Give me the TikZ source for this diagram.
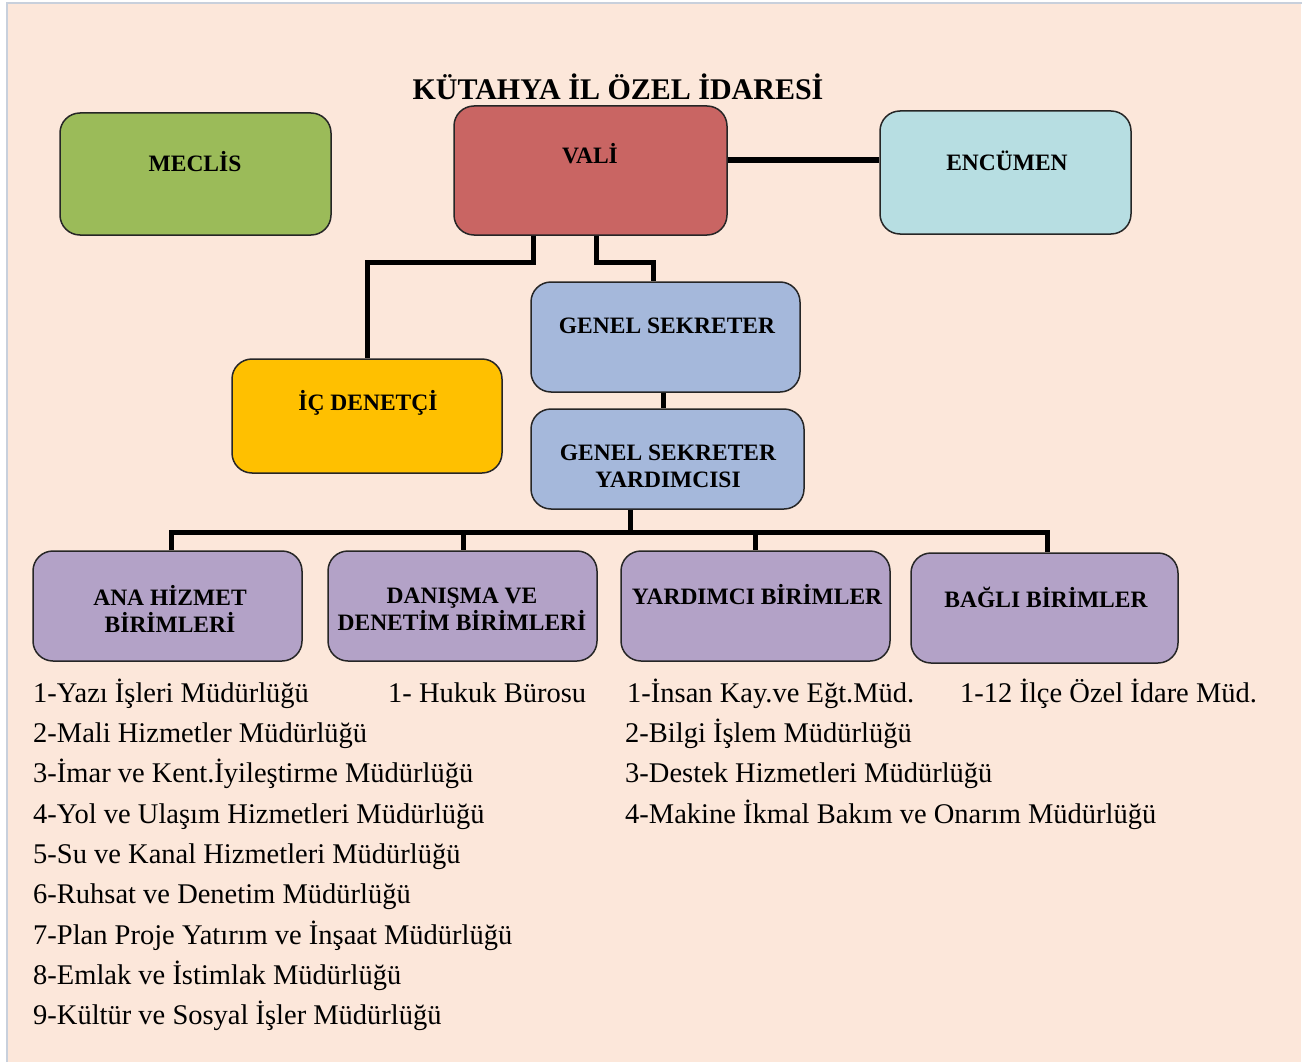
\documentclass[tikz,border=0pt]{standalone}
\usepackage{fontspec}
\setmainfont{Liberation Serif}
\definecolor{bg}{RGB}{252,231,218}
\definecolor{bordergray}{RGB}{200,208,220}
\definecolor{cmeclis}{RGB}{155,187,89}
\definecolor{cvali}{RGB}{201,101,99}
\definecolor{cenc}{RGB}{183,222,226}
\definecolor{cicd}{RGB}{255,192,0}
\definecolor{cgs}{RGB}{165,184,219}
\definecolor{cpur}{RGB}{179,162,199}
\begin{document}
\begin{tikzpicture}[x=1pt,y=-1pt,
  box/.style={draw=black!85, line width=1.5pt, rounded corners=20pt, inner sep=0pt},
  conn/.style={line width=5pt, draw=black},
  btext/.style={font=\fontsize{23.5}{27}\selectfont\bfseries, align=center, inner sep=0pt},
  ttext/.style={font=\fontsize{30}{33}\selectfont\bfseries, inner sep=0pt},
  item/.style={font=\fontsize{28.5}{31}\selectfont, anchor=base west, inner sep=0pt}]
\useasboundingbox (0,0) rectangle (1309,1062);
\fill[white] (0,0) rectangle (1309,1062);
\fill[bg] (8,4) rectangle (1301,1062);
\draw[bordergray, line width=1.5pt] (7,1062) -- (7,3) -- (1302,3);

% boxes
\node[box, fill=cmeclis, minimum width=271pt, minimum height=122pt] (meclis) at (195.5,174) {};
\node[box, fill=cvali, minimum width=273pt, minimum height=129pt] (vali) at (590.5,170.5) {};
\node[box, fill=cenc, minimum width=251pt, minimum height=123pt] (enc) at (1005.5,172.5) {};
\node[box, fill=cgs, minimum width=269pt, minimum height=110pt] (gsk) at (665.5,337) {};
\node[box, fill=cicd, minimum width=270pt, minimum height=114pt] (icd) at (367,416) {};
\node[box, fill=cgs, minimum width=273pt, minimum height=100pt] (gsy) at (667.5,459) {};
\node[box, fill=cpur, minimum width=269pt, minimum height=110pt] (anah) at (167.5,606) {};
\node[box, fill=cpur, minimum width=269pt, minimum height=110pt] (dan) at (462.5,606) {};
\node[box, fill=cpur, minimum width=269pt, minimum height=110pt] (yar) at (755.5,606) {};
\node[box, fill=cpur, minimum width=267pt, minimum height=110pt] (bag) at (1044.5,608) {};

% connector bends
\coordinate (e1) at (800,160);
\coordinate (j1) at (533,262);
\coordinate (j2) at (596,262);
\coordinate (j3) at (653,262);
\coordinate (j4) at (663,400);
\coordinate (j5) at (630,532);
\coordinate (b1) at (171,532);
\coordinate (b2) at (463,532);
\coordinate (b3) at (755,532);
\coordinate (b4) at (1047,532);

\draw[conn] (vali.east |- e1) -- (enc.west |- e1);
\draw[conn] (vali.south -| j1) -- (j1) -| (icd.north);
\draw[conn] (vali.south -| j2) -- (j2) -- (j3) -- (gsk.north -| j3);
\draw[conn] (gsk.south -| j4) -- (gsy.north -| j4);
\draw[conn] (gsy.south -| j5) -- (j5);
\draw[conn] (anah.north -| b1) -- (b1) -- (b4) -- (bag.north -| b4);
\draw[conn] (b2) -- (dan.north -| b2);
\draw[conn] (b3) -- (yar.north -| b3);

% title and box texts
\node[ttext] (title) at (618,87) {KÜTAHYA İL ÖZEL İDARESİ};
\node[btext] (tmeclis) at (195,162) {MECLİS};
\node[btext] (tvali) at (590,154) {VALİ};
\node[btext] (tenc) at (1007,161) {ENCÜMEN};
\node[btext] (tgsk) at (667,326) {GENEL SEKRETER};
\node[btext] (ticd) at (368,403) {İÇ DENETÇİ};
\node[btext] (tgsy) at (668,466) {GENEL SEKRETER\\YARDIMCISI};
\node[btext] (tanah) at (170,609) {ANA HİZMET\\BİRİMLERİ};
\node[btext] (tdan) at (462,609) {DANIŞMA VE\\DENETİM BİRİMLERİ};
\node[btext] (tyar) at (757,595) {YARDIMCI BİRİMLER};
\node[btext] (tbag) at (1046,597) {BAĞLI BİRİMLER};

% lists
\node[item] (a1) at (33,702) {1-Yazı İşleri Müdürlüğü};
\node[item] (a2) at (33,742) {2-Mali Hizmetler Müdürlüğü};
\node[item] (a3) at (33,782) {3-İmar ve Kent.İyileştirme Müdürlüğü};
\node[item] (a4) at (33,823) {4-Yol ve Ulaşım Hizmetleri Müdürlüğü};
\node[item] (a5) at (33,863) {5-Su ve Kanal Hizmetleri Müdürlüğü};
\node[item] (a6) at (33,903) {6-Ruhsat ve Denetim Müdürlüğü};
\node[item] (a7) at (33,944) {7-Plan Proje Yatırım ve İnşaat Müdürlüğü};
\node[item] (a8) at (33,984) {8-Emlak ve İstimlak Müdürlüğü};
\node[item] (a9) at (33,1024) {9-Kültür ve Sosyal İşler Müdürlüğü};
\node[item] (d1) at (388,702) {1- Hukuk Bürosu};
\node[item] (y1) at (627,702) {1-İnsan Kay.ve Eğt.Müd.};
\node[item] (y2) at (625,742) {2-Bilgi İşlem Müdürlüğü};
\node[item] (y3) at (625,782) {3-Destek Hizmetleri Müdürlüğü};
\node[item] (y4) at (625,823) {4-Makine İkmal Bakım ve Onarım Müdürlüğü};
\node[item] (g1) at (960,702) {1-12 İlçe Özel İdare Müd.};
\end{tikzpicture}
\end{document}
